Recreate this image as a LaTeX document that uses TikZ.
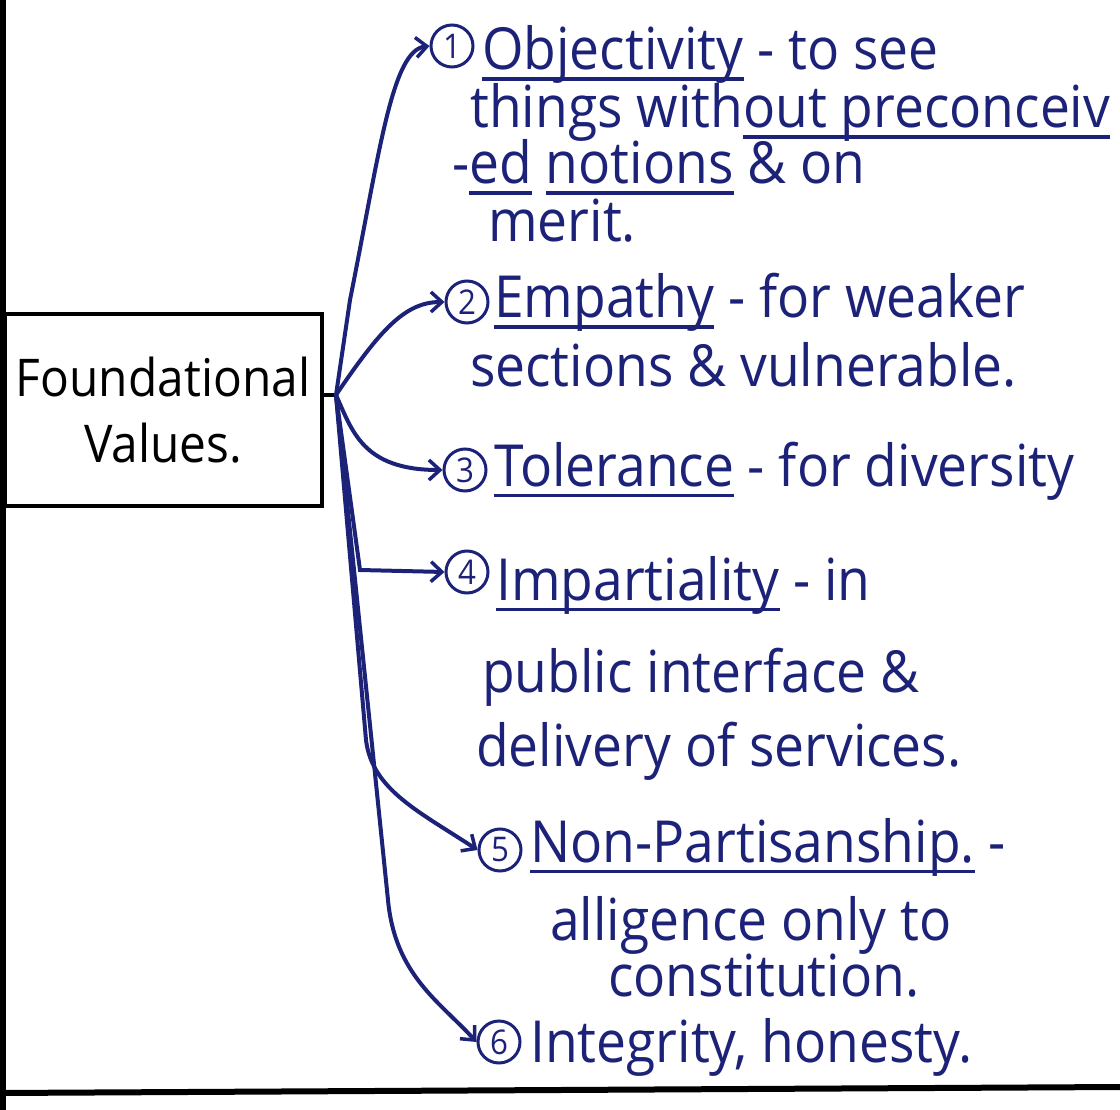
\documentclass[tikz,border=0pt]{standalone}
\usepackage{fontspec}
\newfontfamily\hand[FakeStretch=0.92]{Open Sans}
\usetikzlibrary{arrows.meta}
\definecolor{ink}{RGB}{28,34,120}
% underline drawn as a rule below the word
\newcommand\handul[1]{\setbox0\hbox{#1}\rlap{\rule[-11pt]{\wd0}{3.5pt}}\box0\relax}
\tikzset{
  handtext/.style={anchor=base west, inner sep=0pt, text=ink, font=\hand\fontsize{58}{64}\selectfont},
  numcirc/.style={circle, draw=ink, line width=3pt, inner sep=2pt, minimum size=42pt, text=ink, font=\hand\fontsize{34}{36}\selectfont},
  branch/.style={draw=ink, line width=4pt, -{Straight Barb[length=11pt,width=20pt,line width=3.5pt]}},
  frame/.style={draw=black, line width=6pt}
}
\begin{document}
\begin{tikzpicture}[x=1pt,y=-1pt]
\useasboundingbox (0,0) rectangle (1120,1110);
% page frame lines
\draw[frame] (3,0) -- (3,1110);
\draw[frame] (0,1093) -- (1120,1087);
% central box
\node[draw=black, line width=4pt, minimum width=317pt, minimum height=192pt, align=center,
      font=\hand\fontsize{52}{66}\selectfont] (box) at (163,410) {Foundational\\Values.};
\coordinate (hub) at (336,395);
\draw[black, line width=4pt] (box.east |- hub) -- (hub);

% item circles
\node[numcirc] (n1) at (452,46) {1};
\node[numcirc] (n2) at (467,302) {2};
\node[numcirc] (n3) at (465,470) {3};
\node[numcirc] (n4) at (467,572) {4};
\node[numcirc] (n5) at (500,850) {5};
\node[numcirc] (n6) at (499,1042) {6};

% item texts
\node[handtext] (t1a) at (482,70) {\handul{Objectivity} - to see};
\node[handtext] (t1b) at (470,128) {things with\handul{out preconceiv}};
\node[handtext] (t1c) at (452,184) {-\handul{ed} \handul{notions} \& on};
\node[handtext] (t1d) at (488,242) {merit.};
\node[handtext] (t2a) at (494,318) {\handul{Empathy} - for weaker};
\node[handtext] (t2b) at (470,386) {sections \& vulnerable.};
\node[handtext] (t3) at (494,486) {\handul{Tolerance} - for diversity};
\node[handtext] (t4a) at (496,600) {\handul{Impartiality} - in};
\node[handtext] (t4b) at (482,692) {public interface \&};
\node[handtext] (t4c) at (476,766) {delivery of services.};
\node[handtext] (t5a) at (530,862) {\handul{Non-Partisanship.} -};
\node[handtext] (t5b) at (550,940) {alligence only to};
\node[handtext] (t5c) at (608,996) {constitution.};
\node[handtext] (t6) at (530,1062) {Integrity, honesty.};

% branches from the hub
\draw[branch] (hub) -- (350,300) .. controls (380,150) and (392,50) .. (n1.west);
\draw[branch] (hub) .. controls (380,330) and (405,302) .. (n2.west);
\draw[branch] (hub) .. controls (352,430) and (362,470) .. (n3.west);
\draw[branch] (hub) -- (360,570) -- (n4.west);
\draw[branch] (hub) -- (366,740) .. controls (372,790) and (420,812) .. (n5.west);
\draw[branch] (hub) -- (388,900) .. controls (395,975) and (440,1002) .. (n6.west);
\end{tikzpicture}
\end{document}
